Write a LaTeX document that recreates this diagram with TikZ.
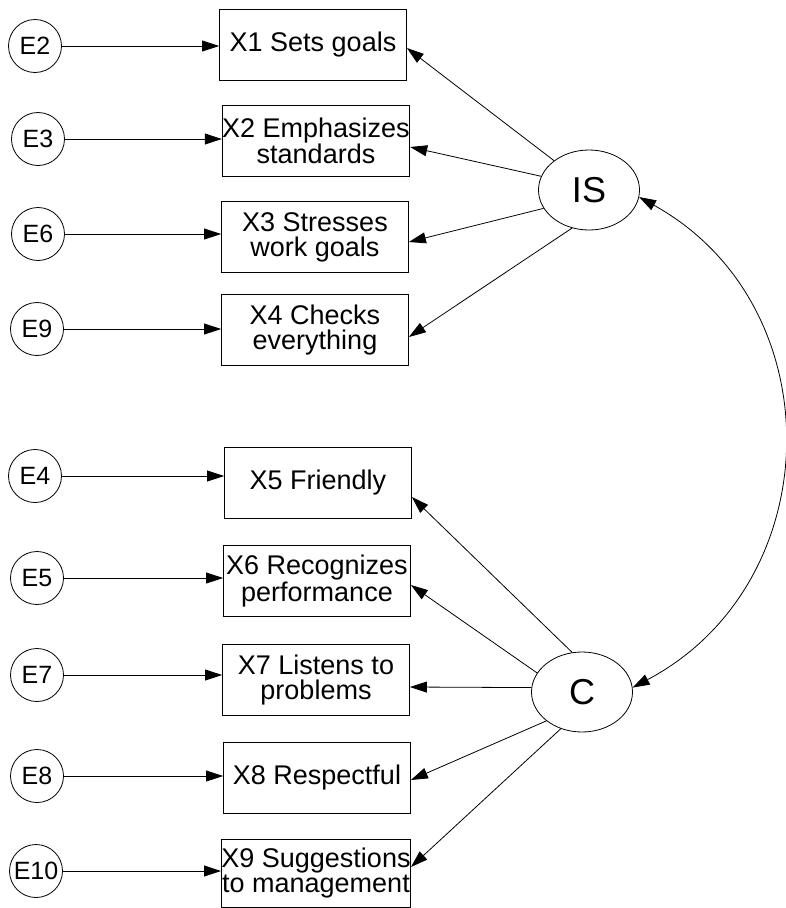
\documentclass[tikz,border=0pt]{standalone}
\usepackage{fontspec}
\setmainfont{Liberation Sans}
\usetikzlibrary{arrows.meta,shapes.geometric}
\begin{document}
\begin{tikzpicture}[x=1pt,y=-1pt,
  box/.style={draw, line width=0.8pt, minimum width=187pt, minimum height=71pt,
    inner sep=0pt, align=center, font=\fontsize{27}{25}\selectfont},
  err/.style={draw, circle, line width=0.8pt, minimum size=53pt, inner sep=0pt,
    font=\fontsize{25}{25}\selectfont},
  latent/.style={draw, ellipse, line width=0.8pt, minimum width=101pt,
    minimum height=80pt, inner sep=0pt, font=\fontsize{36}{36}\selectfont},
  path/.style={line width=0.8pt, -{Triangle[length=17pt,width=11pt]}},
  cov/.style={line width=0.8pt,
    {Triangle[length=17pt,width=11pt]}-{Triangle[length=17pt,width=11pt]}}
]
\useasboundingbox (0,0) rectangle (785,908);

% observed indicators
\node[box] (X1) at (313,45)  {X1 Sets goals};
\node[box] (X2) at (316,141) {X2 Emphasizes\\standards};
\node[box] (X3) at (315,237) {X3 Stresses\\work goals};
\node[box] (X4) at (315,330) {X4 Checks\\everything};
\node[box] (X5) at (318,483) {X5 Friendly};
\node[box] (X6) at (317,581) {X6 Recognizes\\performance};
\node[box] (X7) at (316,680) {X7 Listens to\\problems};
\node[box] (X8) at (317,778) {X8 Respectful};
\node[box, minimum height=68pt] (X9) at (316,873) {X9 Suggestions\\to management};

% error terms
\node[err] (E2)  at (35,46)  {E2};
\node[err] (E3)  at (38,139) {E3};
\node[err] (E6)  at (38,234) {E6};
\node[err] (E9)  at (37,329) {E9};
\node[err] (E4)  at (35,476) {E4};
\node[err] (E5)  at (37,578) {E5};
\node[err] (E7)  at (37,675) {E7};
\node[err] (E8)  at (37,776) {E8};
\node[err] (E10) at (36,871) {E10};

% latent factors
\node[latent] (IS) at (589,190) {IS};
\node[latent] (C)  at (582,692) {C};

% error paths
\foreach \e/\x in {E2/X1, E3/X2, E6/X3, E9/X4, E4/X5, E5/X6, E7/X7, E8/X8, E10/X9}
  \draw[path] (\e) -- (\e -| \x.west);

% loadings of IS
\draw[path] (IS.140) -- ([yshift=-3pt]X1.east);
\draw[path] (IS.164) -- ([yshift=-6pt]X2.east);
\draw[path] (IS.202) -- ([yshift=-5pt]X3.east);
\draw[path] (IS.246) -- ([yshift=-7pt]X4.east);

% loadings of C
\draw[path] (C.104) -- ([yshift=-14pt]X5.east);
\draw[path] (C.157) -- ([yshift=-4pt]X6.east);
\draw[path] (C.175) -- ([yshift=-7pt]X7.east);
\draw[path] (C.219) -- ([yshift=-2pt]X8.east);
\draw[path] (C.240) -- ([yshift=6pt]X9.east);

% factor covariance
\draw[cov] (IS.-8) .. controls (834,305) and (830,583) .. (C.5);
\end{tikzpicture}
\end{document}
